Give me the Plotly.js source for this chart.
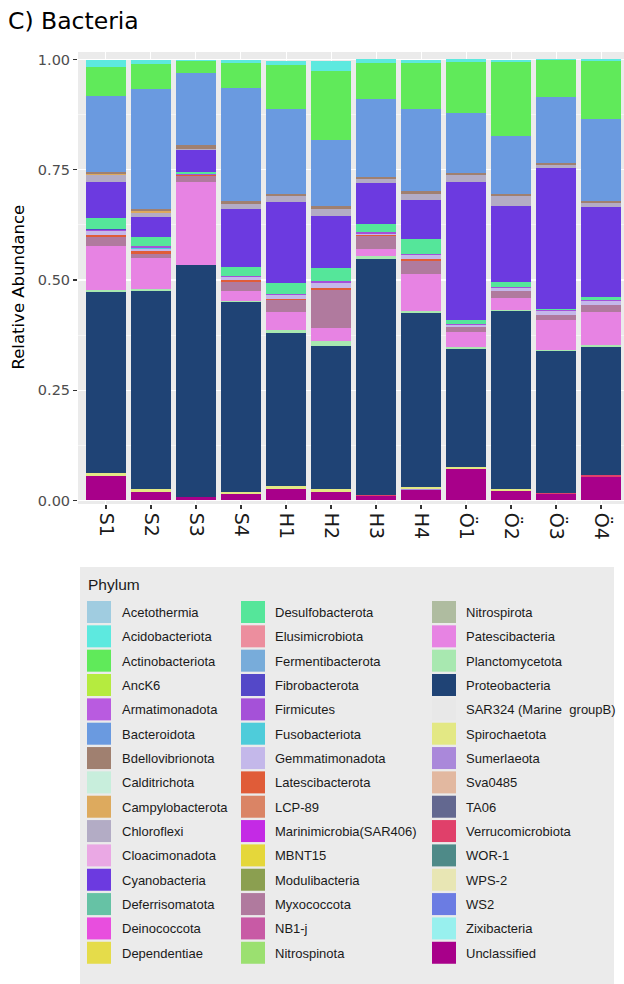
<!DOCTYPE html>
<html><head><meta charset="utf-8">
<script src="https://cdn.plot.ly/plotly-3.0.1.min.js"></script>
<style>html,body{margin:0;padding:0;background:#fff}</style>
</head><body><div id="chart" style="width:624px;height:984px"></div>
<script>
const samples = ['S1','S2','S3','S4','H1','H2','H3','H4','Ö1','Ö2','Ö3','Ö4'];

const phyla = ['Acetothermia','Acidobacteriota','Actinobacteriota','AncK6','Armatimonadota','Bacteroidota','Bdellovibrionota','Calditrichota','Campylobacterota','Chloroflexi','Cloacimonadota','Cyanobacteria','Deferrisomatota','Deinococcota','Dependentiae',
'Desulfobacterota','Elusimicrobiota','Fermentibacterota','Fibrobacterota','Firmicutes','Fusobacteriota','Gemmatimonadota','Latescibacterota','LCP-89','Marinimicrobia(SAR406)','MBNT15','Modulibacteria','Myxococcota','NB1-j','Nitrospinota',
'Nitrospirota','Patescibacteria','Planctomycetota','Proteobacteria','SAR324 (Marine  groupB)','Spirochaetota','Sumerlaeota','Sva0485','TA06','Verrucomicrobiota','WOR-1','WPS-2','WS2','Zixibacteria','Unclassified'];

const phylumColors = ['#A0CCE0','#5DE9DF','#60EA5A','#B5EB3F','#B95BE0','#6A9AE0','#A08070','#C8EEDC','#DDAA5E','#B3ACC5','#EAA8E4','#6C3AE0','#66C2A5','#E84EDE','#E5DC4A',
'#55E69A','#EC8E9E','#78ACDA','#5448C8','#A551D8','#4ECCDA','#C4B8EA','#E05C38','#DA8465','#C42AE5','#E5D73A','#8B9F50','#B07A9E','#C85AA5','#9BE070',
'#AFBCA0','#E783E3','#A8E8B0','#1F4375','#E8E8E8','#E3E884','#AA88DA','#E2B8A0','#636890','#E0406A','#4E8A88','#E8E6B4','#6B7CE3','#98F0EE','#A8008A'];

// relative abundance per sample (S1..S4, H1..H4, Ö1..Ö4)
const none              = [0,0,0,0,0,0,0,0,0,0,0,0];
const vAcidobacteriota  = [0.014,0.009,0.003,0.007,0.009,0.024,0.009,0.007,0.007,0.005,0.003,0.005];
const vActinobacteriota = [0.066,0.058,0.027,0.056,0.100,0.155,0.081,0.104,0.115,0.169,0.084,0.132];
const vBacteroidota     = [0.172,0.271,0.164,0.256,0.191,0.151,0.178,0.185,0.136,0.131,0.150,0.186];
const vBdellovibrionota = [0.006,0.005,0.008,0.008,0.005,0.007,0.005,0.006,0.004,0.005,0.005,0.004];
const vCampylobacterota = [0.003,0.004,0,0,0,0,0,0,0,0,0,0];
const vChloroflexi      = [0.015,0.010,0.004,0.010,0.014,0.015,0.009,0.014,0.017,0.023,0.007,0.009];
const vCyanobacteria    = [0.081,0.044,0.048,0.132,0.184,0.117,0.091,0.090,0.312,0.172,0.319,0.204];
const vDesulfobacterota = [0.025,0.021,0.006,0.020,0.025,0.030,0.020,0.033,0.009,0.011,0.003,0.006];
const vFibrobacterota   = [0.002,0,0,0,0,0,0,0,0,0,0,0];
const vFirmicutes       = [0.004,0.004,0.001,0.004,0.003,0.004,0.003,0.003,0.002,0.002,0.002,0.003];
const vFusobacteriota   = [0,0.003,0,0,0,0,0,0,0,0,0,0];
const vGemmatimonadota  = [0.007,0.005,0.002,0.007,0.007,0.012,0.004,0.008,0.005,0.007,0.008,0.008];
const vLatescibacterota = [0.006,0.005,0.002,0.003,0.004,0.005,0.002,0.006,0.001,0.001,0.001,0.001];
const vMyxococcota      = [0.020,0.011,0.012,0.021,0.026,0.085,0.029,0.029,0.012,0.015,0.011,0.015];
const vPatescibacteria  = [0.100,0.070,0.189,0.023,0.042,0.030,0.015,0.083,0.033,0.027,0.068,0.076];
const vPlanctomycetota  = [0.004,0.003,0.001,0.003,0.007,0.011,0.007,0.004,0.004,0.003,0.001,0.005];
const vProteobacteria   = [0.410,0.450,0.524,0.429,0.346,0.324,0.535,0.396,0.268,0.404,0.323,0.289];
const vSpirochaetota    = [0.008,0.006,0,0.005,0.007,0.007,0.001,0.004,0.005,0.003,0,0.001];
const vSumerlaeota      = [0,0,0,0,0,0,0,0.003,0,0,0,0];
const vVerrucomicrobiota= [0,0,0.001,0,0,0,0.002,0,0,0,0.003,0.003];
const vUnclassified     = [0.055,0.020,0.008,0.015,0.026,0.020,0.010,0.023,0.071,0.022,0.014,0.054];

const seriesValues = [none,vAcidobacteriota,vActinobacteriota,none,none,vBacteroidota,vBdellovibrionota,none,vCampylobacterota,vChloroflexi,none,vCyanobacteria,none,none,none,
vDesulfobacterota,none,none,vFibrobacterota,vFirmicutes,vFusobacteriota,vGemmatimonadota,vLatescibacterota,none,none,none,none,vMyxococcota,none,none,
none,vPatescibacteria,vPlanctomycetota,vProteobacteria,none,vSpirochaetota,vSumerlaeota,none,none,vVerrucomicrobiota,none,none,none,none,vUnclassified];

// stacking: last phylum at the bottom
const traces = [];
for (let i = phyla.length - 1; i >= 0; i--) {
  traces.push({type:'bar', name: phyla[i], x: samples, y: seriesValues[i],
    marker:{color: phylumColors[i], line:{width:0}}, showlegend:false});
}

const W=624, H=984, L=78, R=0, T=52, B=480;
const pw = W-L-R, ph = H-T-B;
const px2x = p => (p-L)/pw;
const py2y = p => (H-B-p)/ph;

const shapes = [];
const annotations = [];
// y-axis title
annotations.push({xref:'paper', yref:'paper', x:px2x(17.5), y:py2y(287), xanchor:'center', yanchor:'middle', textangle:-90,
  showarrow:false, text:'Relative Abundance', font:{family:'DejaVu Sans, Verdana', size:16.5, color:'#000'}});
// legend panel
shapes.push({type:'rect', xref:'paper', yref:'paper', x0:px2x(80), x1:px2x(614), y0:py2y(567), y1:py2y(1000),
  fillcolor:'#EBEBEB', line:{width:0}, layer:'below'});
annotations.push({xref:'paper', yref:'paper', x:px2x(86), y:py2y(584), xanchor:'left', yanchor:'middle', showarrow:false,
  text:'Phylum', font:{family:'Liberation Sans, Arial', size:15.5, color:'#1a1a1a'}});
const colKeyX = [87, 241, 432];
const colTextX = [120, 273, 464];
const perCol = 15, rowPitch = 24.34, firstTop = 601;
phyla.forEach((p, i) => {
  const c = Math.floor(i / perCol), r = i % perCol;
  const y0 = firstTop + r*rowPitch;
  shapes.push({type:'rect', xref:'paper', yref:'paper', x0:px2x(colKeyX[c]), x1:px2x(colKeyX[c]+24),
    y0:py2y(y0), y1:py2y(y0+22), fillcolor:phylumColors[i], line:{width:0}});
  annotations.push({xref:'paper', yref:'paper', x:px2x(colTextX[c]), y:py2y(y0+11.5), xanchor:'left', yanchor:'middle',
    showarrow:false, text:p.replace('  ','&nbsp; '), font:{family:'Liberation Sans, Arial', size:13, color:'#1a1a1a'}});
});

const layout = {
  width:W, height:H, margin:{l:L, r:R, t:T, b:B}, paper_bgcolor:'#ffffff', plot_bgcolor:'#EBEBEB',
  barmode:'stack', bargap:0.09, showlegend:false,
  title:{text:'C) Bacteria', x:8/W, xanchor:'left', xref:'container', y:1-21/H, yanchor:'middle', yref:'container',
    font:{family:'DejaVu Sans, Verdana', size:23.5, color:'#000'}},
  xaxis:{type:'category', range:[-0.622, 11.511], tickangle:90, tickfont:{family:'DejaVu Sans, Verdana', size:19, color:'#1a1a1a'},
    ticks:'outside', ticklen:4, tickwidth:1.3, tickcolor:'#333', showgrid:true, gridcolor:'#ffffff', zeroline:false, showline:false, automargin:false},
  yaxis:{range:[-0.008, 1.017], tick0:0, dtick:0.25, tickformat:'.2f', tickfont:{family:'DejaVu Sans, Verdana', size:14.5, color:'#4D4D4D'},
    ticks:'outside', ticklen:4, tickwidth:1.3, tickcolor:'#333', showgrid:true, gridcolor:'#ffffff', gridwidth:1.1, zeroline:false, showline:false,
    minor:{dtick:0.125, showgrid:true, gridcolor:'#ffffff', gridwidth:0.5}, automargin:false},
  shapes:shapes, annotations:annotations
};

Plotly.newPlot('chart', traces, layout, {displayModeBar:false, staticPlot:true});
</script></body></html>
